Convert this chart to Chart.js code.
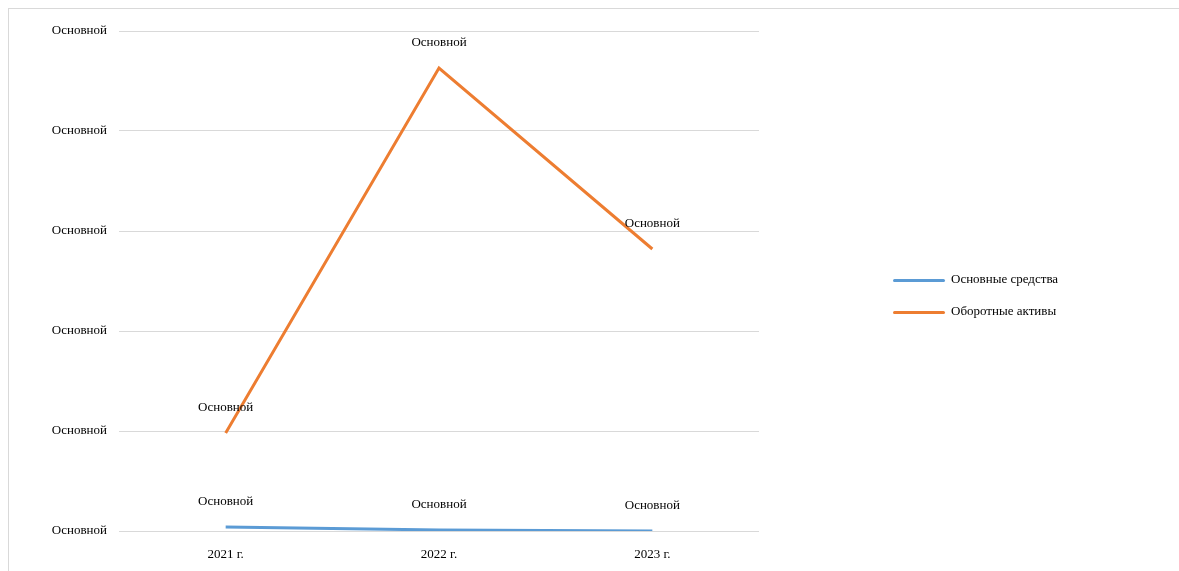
<!DOCTYPE html>
<html>
<head>
<meta charset="utf-8">
<script src="https://cdn.jsdelivr.net/npm/chart.js@4"></script>
<style>
  body { margin: 0; background: #fff; }
  #marco { position: absolute; left: 8px; top: 8px; width: 1200px; height: 600px;
           border-top: 1px solid #d9d9d9; border-left: 1px solid #d9d9d9; }
  #lienzo { position: absolute; left: 0; top: 0; }
  .leyenda { position: absolute; left: 893px; font: 13px "Liberation Serif", "Times New Roman", serif; color: #000; }
  .leyenda span.linea { display: inline-block; width: 52px; height: 3px; vertical-align: middle; margin-right: 6px; border-radius: 2px; }
</style>
</head>
<body>
<div id="marco"></div>
<canvas id="lienzo" width="1179" height="571"></canvas>
<div class="leyenda" style="top:271px"><span class="linea" style="background:#5b9bd5"></span>Основные средства</div>
<div class="leyenda" style="top:303px"><span class="linea" style="background:#ed7d31"></span>Оборотные активы</div>
<script>
const categorias = ["2021 г.", "2022 г.", "2023 г."]
const osnovnye = [0.04, 0.01, 0.0]
const oborotnye = [0.98, 4.63, 2.82]
const etiquetaEje = "Основной"
const etiquetaDato = "Основной"

const fuente = { family: "'Liberation Serif', 'Times New Roman', serif", size: 13 }

const etiquetasPlugin = {
    id: "etiquetas",
    afterDatasetsDraw(chart) {
        const ctx = chart.ctx
        ctx.save()
        ctx.font = "13px 'Liberation Serif', 'Times New Roman', serif"
        ctx.fillStyle = "#000"
        ctx.textAlign = "center"
        ctx.textBaseline = "middle"
        chart.data.datasets.forEach((ds, i) => {
            chart.getDatasetMeta(i).data.forEach(p => {
                ctx.fillText(etiquetaDato, p.x, p.y - 25)
            })
        })
        ctx.restore()
    }
}

new Chart(document.getElementById("lienzo"), {
    type: "line",
    data: {
        labels: categorias,
        datasets: [
            { label: "Основные средства", data: osnovnye, borderColor: "#5b9bd5", borderWidth: 3, pointRadius: 0, tension: 0 },
            { label: "Оборотные активы", data: oborotnye, borderColor: "#ed7d31", borderWidth: 3, pointRadius: 0, tension: 0 }
        ]
    },
    options: {
        responsive: false,
        animation: false,
        layout: { padding: { top: 31, right: 420, bottom: 0, left: 0 } },
        plugins: { legend: { display: false }, tooltip: { enabled: false } },
        scales: {
            x: {
                offset: true,
                grid: { display: false },
                border: { display: false },
                ticks: { color: "#000", font: fuente, padding: 8, maxRotation: 0 },
                afterFit(s) { s.height = 40 }
            },
            y: {
                min: 0,
                max: 5,
                grid: { color: "#d9d9d9", drawTicks: false },
                border: { display: false },
                ticks: { stepSize: 1, color: "#000", font: fuente, padding: 12, callback: () => etiquetaEje },
                afterFit(s) { s.width = 119 }
            }
        }
    },
    plugins: [etiquetasPlugin]
})
</script>
</body>
</html>
